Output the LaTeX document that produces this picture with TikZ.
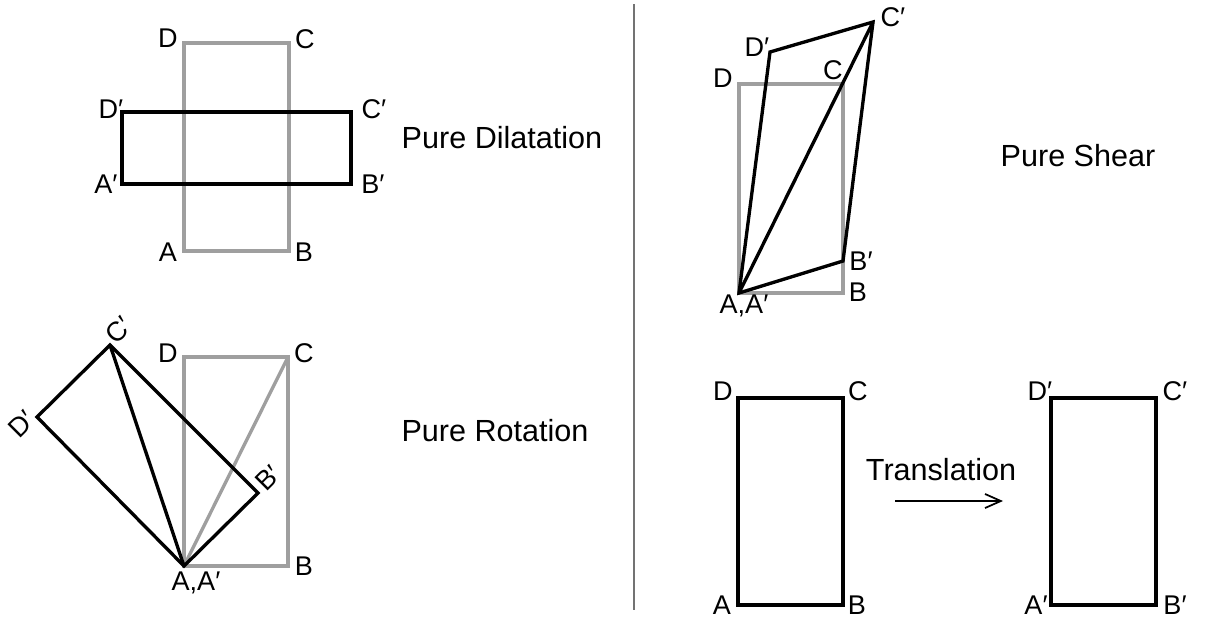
\documentclass[tikz,border=0pt]{standalone}
\usepackage{fontspec}
\setmainfont{Liberation Sans}
\usetikzlibrary{arrows.meta,calc}

\begin{document}
\begin{tikzpicture}[
    x=0.02cm, y=-0.02cm,
    old/.style={draw=gray!75, line width=1.9pt, line join=miter},
    new/.style={draw=black, line width=1.9pt, line join=miter},
    lbl/.style={inner sep=0pt, font=\fontsize{15.4}{18}\selectfont},
    caption/.style={inner sep=0pt, font=\fontsize{17.4}{20}\selectfont},
]
\useasboundingbox (0,0) rectangle (1206,626);

% Divider
\coordinate (top) at (634,4);
\coordinate (bot) at (634,610);
\draw[black!55, line width=1pt] (top) -- (bot);

% Pure dilatation
\coordinate (dA) at (184,251); \coordinate (dB) at (289,251);
\coordinate (dC) at (289,43);  \coordinate (dD) at (184,43);
\coordinate (dAp) at (122,184); \coordinate (dBp) at (351,184);
\coordinate (dCp) at (351,112); \coordinate (dDp) at (122,112);
\draw[old] (dA) -- (dB) -- (dC) -- (dD) -- cycle;
\draw[new] (dAp) -- (dBp) -- (dCp) -- (dDp) -- cycle;
\node[lbl] (ldA) at (168,252) {A};
\node[lbl] (ldB) at (304,252) {B};
\node[lbl] (ldC) at (305,39) {C};
\node[lbl] (ldD) at (168,38) {D};
\node[lbl] (ldAp) at (106,184) {A′};
\node[lbl] (ldBp) at (373,184) {B′};
\node[lbl] (ldCp) at (374,109) {C′};
\node[lbl] (ldDp) at (111,109) {D′};
\node[caption] (dil) at (502,138) {Pure Dilatation};

% Pure rotation
\coordinate (rA) at (184,566); \coordinate (rB) at (288,566);
\coordinate (rC) at (288,357); \coordinate (rD) at (184,357);
\coordinate (rBp) at (258,493); \coordinate (rCp) at (110,345);
\coordinate (rDp) at (37,417);
\draw[old] (rA) -- (rB) -- (rC) -- (rD) -- cycle;
\draw[old] (rA) -- (rC);
\draw[new] (rA) -- (rBp) -- (rCp) -- (rDp) -- cycle;
\draw[new] (rA) -- (rCp);
\node[lbl] (lrD) at (168,353) {D};
\node[lbl] (lrC) at (304,353) {C};
\node[lbl] (lrB) at (304,566) {B};
\node[lbl] (lrA) at (196,583) {A,A′};
\node[lbl, rotate=45] (lrCp) at (119,330) {C′};
\node[lbl, rotate=45] (lrDp) at (22,424) {D′};
\node[lbl, rotate=45] (lrBp) at (268,478) {B′};
\node[caption] (rot) at (495,431) {Pure Rotation};

% Pure shear
\coordinate (sA) at (739,293); \coordinate (sB) at (843,293);
\coordinate (sC) at (843,84);  \coordinate (sD) at (739,84);
\coordinate (sBp) at (843,261); \coordinate (sCp) at (873,22);
\coordinate (sDp) at (770,52);
\draw[old] (sA) -- (sB) -- (sC) -- (sD) -- cycle;
\draw[new] (sA) -- (sBp) -- (sCp) -- (sDp) -- cycle;
\draw[new] (sA) -- (sCp);
\node[lbl] (lsDp) at (757,47) {D′};
\node[lbl] (lsCp) at (893,17) {C′};
\node[lbl] (lsD) at (723,78) {D};
\node[lbl] (lsC) at (833,70) {C};
\node[lbl] (lsBp) at (861,261) {B′};
\node[lbl] (lsB) at (858,292) {B};
\node[lbl] (lsA) at (744,306) {A,A′};
\node[caption] (shr) at (1078,156) {Pure Shear};

% Translation
\coordinate (tA) at (738,605); \coordinate (tB) at (843,605);
\coordinate (tC) at (843,398); \coordinate (tD) at (738,398);
\coordinate (tAp) at (1051,605); \coordinate (tBp) at (1156,605);
\coordinate (tCp) at (1156,398); \coordinate (tDp) at (1051,398);
\draw[new] (tA) -- (tB) -- (tC) -- (tD) -- cycle;
\draw[new] (tAp) -- (tBp) -- (tCp) -- (tDp) -- cycle;
\node[lbl] (ltD) at (723,391) {D};
\node[lbl] (ltC) at (858,391) {C};
\node[lbl] (ltA) at (722,605) {A};
\node[lbl] (ltB) at (857,605) {B};
\node[lbl] (ltDp) at (1040,391) {D′};
\node[lbl] (ltCp) at (1175,391) {C′};
\node[lbl] (ltAp) at (1036,605) {A′};
\node[lbl] (ltBp) at (1175,605) {B′};
\node[caption] (trans) at (941,470) {Translation};
\coordinate (arrs) at (895,501);
\coordinate (arre) at (1003,501);
\draw[line width=1pt, -{Straight Barb[length=9pt,width=8pt]}] (arrs) -- (arre);

\end{tikzpicture}
\end{document}
